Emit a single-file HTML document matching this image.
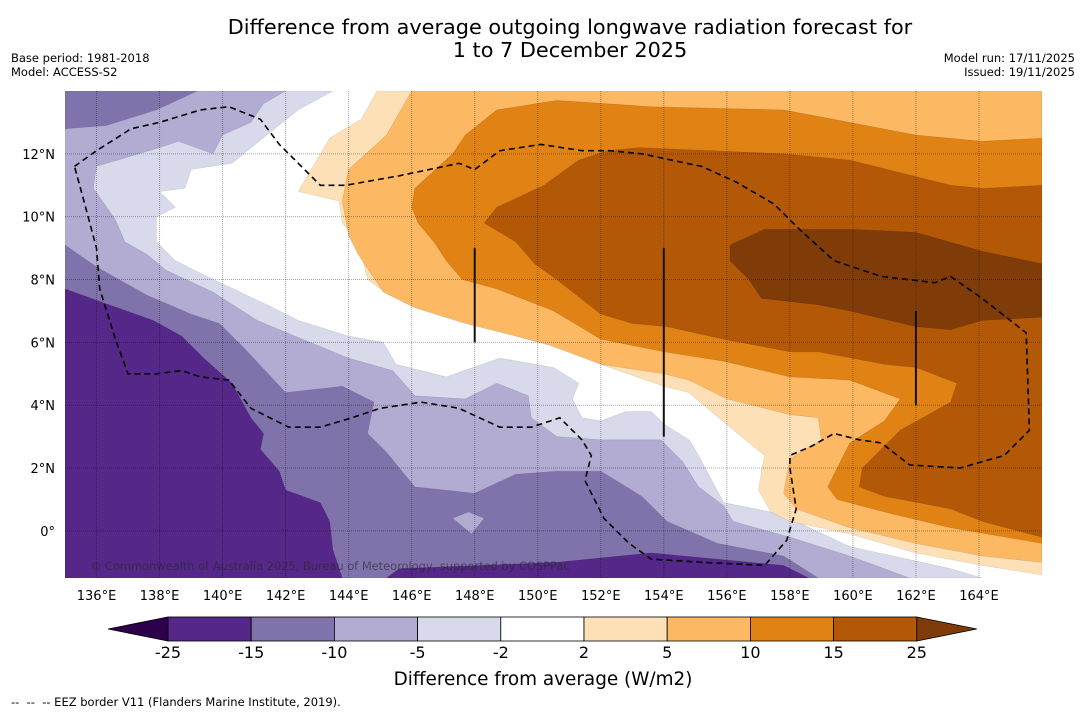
<!DOCTYPE html>
<html><head><meta charset="utf-8"><style>
body{margin:0;background:#fff;width:1085px;height:713px;overflow:hidden;font-family:"DejaVu Sans","Liberation Sans",sans-serif}
svg{display:block;font-family:"DejaVu Sans","Liberation Sans",sans-serif}
</style></head><body>
<svg id="c" width="1085" height="713" xmlns="http://www.w3.org/2000/svg">
<text x="570" y="34" font-size="20.8" text-anchor="middle">Difference from average outgoing longwave radiation forecast for</text>
<text x="570" y="57" font-size="20.8" text-anchor="middle">1 to 7 December 2025</text>
<text x="11" y="62" font-size="11.5">Base period: 1981-2018</text>
<text x="11" y="76" font-size="11.5">Model: ACCESS-S2</text>
<text x="1075" y="62" font-size="11.5" text-anchor="end">Model run: 17/11/2025</text>
<text x="1075" y="76" font-size="11.5" text-anchor="end">Issued: 19/11/2025</text>
<g id="map"></g>
<g id="cbar"></g>
<text x="543" y="685" font-size="18.4" text-anchor="middle">Difference from average (W/m2)</text>
<text x="11" y="706" font-size="11.5" xml:space="preserve">--  --  -- EEZ border V11 (Flanders Marine Institute, 2019).</text>
</svg>
<script>
const lonTicks=[136,138,140,142,144,146,148,150,152,154,156,158,160,162,164];
const latTicks=[0,2,4,6,8,10,12];
const levels=[-25,-15,-10,-5,-2,2,5,10,15,25];
const levelColors=["#542788","#8073ac","#b2abd2","#d8daeb","#ffffff","#fee0b6","#fdb863","#e08214","#b35806"];
const underColor="#2d004b", overColor="#7f3b08";
const zoneL1=[[143.5,14],[142.4,13.4],[141.4,12.6],[140.3,11.7],[139.0,11.5],[138.8,10.9],[138.0,10.8],[138.5,10.3],[137.9,10.0],[137.9,9.2],[138.5,8.6],[139.5,8.1],[141.4,7.2],[142.4,6.7],[144.0,6.2],[145.1,6.0],[145.5,5.3],[147.1,4.9],[148.8,5.5],[150.5,5.2],[151.3,4.7],[151.1,4.2],[151.4,3.6],[152.0,3.5],[152.8,3.8],[153.6,3.8],[154.0,3.4],[154.8,2.9],[155.1,2.4],[155.9,0.9],[157.4,0.6],[158.2,0.3],[159.9,-0.5],[163.1,-1.2],[164.1,-1.5],[135,-1.5],[135,14]];
const zoneL2=[[142.0,14],[141.3,13.6],[140.9,13.0],[140.0,12.6],[139.7,12.0],[138.6,12.4],[138.0,12.2],[136.0,11.6],[135.9,10.9],[136.6,9.9],[136.9,9.2],[137.6,8.8],[138.2,8.3],[139.7,7.6],[141.1,6.7],[142.3,6.2],[144.0,5.5],[145.4,5.1],[146.1,4.3],[147.7,4.2],[148.7,4.7],[149.7,4.3],[149.8,3.6],[150.6,3.0],[152.0,2.9],[152.8,2.9],[153.9,2.9],[154.6,2.2],[155.1,1.4],[155.9,0.8],[156.2,0.3],[158.0,-0.2],[159.9,-0.8],[161.8,-1.5],[135,-1.5],[135,14]];
const zoneL3=[[135,9.1],[136.0,8.4],[137.6,7.5],[139.0,6.9],[139.9,6.6],[140.7,5.8],[142.0,4.4],[143.8,4.6],[144.8,4.1],[144.6,3.1],[145.2,2.5],[146.1,1.4],[148.0,1.2],[149.3,1.8],[150.6,1.9],[152.0,1.9],[153.3,1.1],[154.1,0.3],[155.7,-0.4],[157.8,-0.8],[158.9,-1.5],[135,-1.5]];
const zoneL3b=[[135,14],[139.2,14],[137.9,13.4],[136.3,12.9],[135,12.8]];
const zoneL2b=[[147.3,0.4],[147.8,0.6],[148.3,0.4],[147.9,-0.1]];
const zoneL4=[[135,7.7],[136.4,7.2],[137.8,6.7],[138.7,6.2],[139.4,5.5],[140.3,4.7],[140.9,3.6],[141.3,3.1],[141.2,2.6],[141.8,1.9],[142.0,1.3],[143.1,0.9],[143.4,0.3],[143.5,-0.6],[143.8,-1.5],[135,-1.5]];
const zoneL4b=[[145.2,-1.5],[145.6,-1.2],[150.6,-1.0],[153.6,-0.7],[157.8,-1.1],[158.6,-1.5]];
const zoneO1=[[144.9,14],[144.4,13.1],[143.4,12.5],[142.4,10.8],[143.7,10.5],[143.8,9.8],[144.3,9.2],[144.6,8.0],[145.0,7.7],[146.2,7.3],[147.7,6.7],[149.3,6.3],[150.6,5.9],[152.0,5.3],[154.0,4.6],[154.8,4.4],[156.1,3.3],[157.2,2.4],[157.1,1.9],[157.0,1.3],[157.4,0.6],[158.0,0.3],[159.9,-0.1],[162.0,-0.7],[164.1,-1.1],[166,-1.4],[166,14]];
const zoneO2=[[146.0,14],[145.2,12.6],[144.0,11.5],[143.8,10.5],[144.0,9.4],[144.3,8.8],[145.1,7.6],[146.1,7.1],[147.7,6.6],[149.3,6.2],[150.4,5.9],[152.0,5.3],[154.0,5.0],[154.8,4.8],[156.0,4.2],[158.0,3.7],[158.9,3.6],[159.0,2.9],[158.0,2.3],[157.8,1.2],[158.2,0.7],[159.9,0.1],[162.0,-0.4],[164.1,-0.8],[166,-1.0],[166,14]];
const zoneO3=[[166,12.5],[164.1,12.4],[162.0,12.6],[159.9,13.0],[157.8,13.4],[153.6,13.5],[150.6,13.7],[148.7,13.4],[147.7,12.6],[147.3,12.0],[146.1,10.9],[146.0,10.3],[146.2,9.8],[146.7,9.2],[147.1,8.6],[147.6,8.0],[148.7,7.7],[150.5,7.0],[152.0,6.1],[154.0,5.7],[155.9,5.4],[158.0,4.9],[159.9,4.8],[161.5,4.2],[161.0,3.5],[159.9,2.8],[159.2,1.4],[159.5,1.0],[161.0,0.6],[163.1,0.1],[166,-0.4]];
const zoneO4=[[166,11.0],[164.1,10.9],[163.1,11.0],[161.5,11.4],[159.9,11.8],[157.8,12.0],[153.2,12.2],[152.2,12.1],[151.3,11.8],[150.2,11.0],[148.7,10.3],[148.3,9.8],[149.3,9.2],[149.9,8.5],[150.6,8.0],[152.0,6.9],[153.0,6.6],[154.1,6.5],[155.9,6.1],[158.0,5.7],[158.9,5.7],[161.0,5.3],[162.0,5.2],[163.3,4.7],[163.1,4.1],[161.5,3.2],[160.3,2.0],[160.2,1.4],[161.0,1.1],[163.1,0.7],[164.1,0.3],[166,-0.2]];
const zoneO5=[[156.1,9.1],[157.2,9.6],[159.9,9.6],[162.0,9.5],[164.1,8.9],[166,8.5],[166,6.8],[164.1,6.7],[163.1,6.4],[162.0,6.5],[159.9,7.0],[158.9,7.2],[157.1,7.4],[156.7,8.0],[156.1,8.6]];
const eez=[[135.3,11.6],[136.0,12.1],[137.1,12.8],[138.0,13.0],[139.3,13.4],[140.2,13.5],[141.2,13.1],[141.8,12.3],[142.5,11.6],[143.1,11.0],[143.9,11.0],[145.6,11.3],[147.5,11.7],[148.0,11.5],[148.8,12.1],[150.1,12.3],[151.4,12.1],[152.3,12.1],[153.3,12.0],[155.2,11.6],[156.3,11.1],[157.5,10.4],[158.3,9.6],[159.4,8.6],[160.9,8.1],[162.6,7.9],[163.1,8.1],[164.1,7.4],[165.5,6.3],[165.6,3.2],[164.8,2.4],[163.4,2.0],[161.8,2.1],[160.9,2.8],[160.2,2.9],[159.4,3.1],[158.7,2.7],[158.0,2.4],[158.0,2.0],[158.2,0.7],[157.9,-0.3],[157.2,-1.1],[155.2,-1.0],[153.6,-0.9],[152.9,-0.4],[152.1,0.4],[151.5,1.6],[151.7,2.4],[151.4,2.9],[150.7,3.6],[149.8,3.3],[148.8,3.3],[147.5,3.9],[146.3,4.1],[145.0,3.9],[144.1,3.6],[143.1,3.3],[142.1,3.3],[140.9,3.9],[140.2,4.8],[139.3,4.9],[138.7,5.1],[137.9,5.0],[137.0,5.0],[136.6,6.1],[136.1,7.7],[136.0,9.0],[135.6,10.5],[135.3,11.6]];
const segLon=[148,154,162];
const segLatTop=[9,9,7];
const segLatBot=[6,3,4];

const NS="http://www.w3.org/2000/svg";
const X0=65,X1=1042,Y0=91,Y1=578,LON0=135,LON1=166,LAT0=-1.5,LAT1=14;
function xs(lon){return X0+(lon-LON0)/(LON1-LON0)*(X1-X0);}
function ys(lat){return Y0+(LAT1-lat)/(LAT1-LAT0)*(Y1-Y0);}
function mk(tag,attrs,parent){const e=document.createElementNS(NS,tag);for(const k in attrs)e.setAttribute(k,attrs[k]);parent.appendChild(e);return e;}
const map=document.getElementById('map');
const defs=mk('defs',{},map);
const cp=mk('clipPath',{id:'clip'},defs);
mk('rect',{x:X0,y:Y0,width:X1-X0,height:Y1-Y0},cp);
const g=mk('g',{'clip-path':'url(#clip)'},map);
const bg=mk('rect',{x:X0,y:Y0,width:X1-X0,height:Y1-Y0,fill:'#fff'},g);


function pts(a){return a.map(p=>xs(p[0]).toFixed(1)+','+ys(p[1]).toFixed(1)).join(' ');}
const zones=[[zoneL1,3,'zone-minus2'],[zoneL2,2,'zone-minus5'],[zoneL3,1,'zone-minus10'],[zoneL3b,1,'zone-minus10-north'],[zoneL4,0,'zone-minus15'],[zoneL4b,0,'zone-minus15-south'],[zoneO1,5,'zone-plus2'],[zoneO2,6,'zone-plus5'],[zoneO3,7,'zone-plus10'],[zoneO4,8,'zone-plus15'],[zoneO5,-1,'zone-plus25'],[zoneL2b,2,'zone-minus5-patch']];
zones.forEach(z=>{
  const e=mk('polygon',{points:pts(z[0]),fill:z[1]<0?overColor:levelColors[z[1]],stroke:'rgba(0,0,0,0.12)','stroke-width':0.6},g);
  
  
});
lonTicks.forEach(l=>{
  const e=mk('line',{x1:xs(l),x2:xs(l),y1:Y0,y2:Y1,stroke:'rgba(0,0,0,0.35)','stroke-width':1,'stroke-dasharray':'1,1'},g);
  
  
});
latTicks.forEach(l=>{
  const e=mk('line',{x1:X0,x2:X1,y1:ys(l),y2:ys(l),stroke:'rgba(0,0,0,0.35)','stroke-width':1,'stroke-dasharray':'1,1'},g);
  
  
});
segLon.forEach((l,i)=>{
  const e=mk('line',{x1:xs(l),x2:xs(l),y1:ys(segLatTop[i]),y2:ys(segLatBot[i]),stroke:'#111','stroke-width':2},g);
  
  
});
const ez=mk('polyline',{points:pts(eez),fill:'none',stroke:'#000','stroke-width':1.6,'stroke-dasharray':'6,4'},g);


const cr=mk('text',{x:90,y:570,'font-size':11.4,fill:'rgba(40,40,40,0.6)'},g);
cr.textContent='© Commonwealth of Australia 2025, Bureau of Meteorology, supported by COSPPac';


lonTicks.forEach(l=>{
  const t=mk('text',{x:xs(l),y:600,'font-size':13,'text-anchor':'middle'},map);
  t.textContent=l+'°E';
  
  
});
latTicks.forEach(l=>{
  const t=mk('text',{x:55,y:ys(l)+5,'font-size':13,'text-anchor':'end'},map);
  t.textContent=l===0?'0°':l+'°N';
  
  
});
const cb=document.getElementById('cbar');
const CB0=168,CBW=83.2,CY=617,CH=24;
const lt=mk('polygon',{points:`108,${CY+CH/2} ${CB0},${CY} ${CB0},${CY+CH}`,fill:underColor,stroke:'#000','stroke-width':0.8},cb);


levelColors.forEach((c,i)=>{
  const r=mk('rect',{x:CB0+i*CBW,y:CY,width:CBW,height:CH,fill:c,stroke:'#000','stroke-width':0.8},cb);
  
  
});
const xe=CB0+levelColors.length*CBW;
const rt=mk('polygon',{points:`${xe},${CY} ${xe+60},${CY+CH/2} ${xe},${CY+CH}`,fill:overColor,stroke:'#000','stroke-width':0.8},cb);


levels.forEach((v,i)=>{
  const t=mk('text',{x:CB0+i*CBW,y:658,'font-size':16,'text-anchor':'middle'},cb);
  t.textContent=v;
  
  
});
</script>
</body></html>
